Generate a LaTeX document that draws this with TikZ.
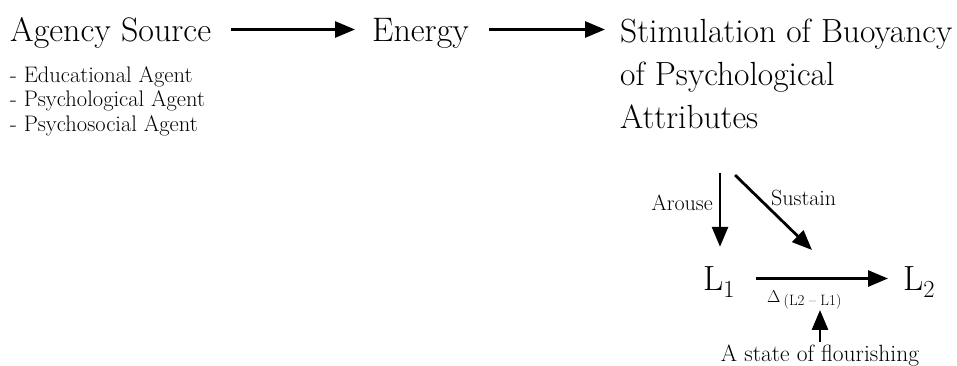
\documentclass[tikz,border=0pt]{standalone}
\usepackage{fontspec}
\usetikzlibrary{arrows.meta}
\begin{document}
\begin{tikzpicture}[x=1pt,y=-1pt,
	big/.style={anchor=base west, inner sep=0, text height=23pt, text depth=0pt, font=\fontsize{34}{43}\selectfont},
	small/.style={anchor=base west, inner sep=0, font=\fontsize{22.5}{24}\selectfont},
	label/.style={inner sep=0, font=\fontsize{22}{22}\selectfont},
	level/.style={anchor=base west, inner sep=0, text height=23pt, text depth=0pt, font=\fontsize{35}{35}\selectfont},
	arr/.style={line width=2.8pt, -{Triangle[length=20pt,width=16pt]}}]
	\useasboundingbox (0,0) rectangle (957,365);
	% top row
	\node[big] (src) at (10,41) {Agency Source};
	\node[big] (energy) at (372,41) {Energy};
	\node[anchor=north west, inner sep=0, align=left, font=\fontsize{33.5}{43}\selectfont] (stim) at (620,18.5) {Stimulation of Buoyancy\\of Psychological\\Attributes};
	\draw[arr, shorten <=20pt, shorten >=17pt] (src) -- (energy);
	\draw[arr, shorten <=20pt, shorten >=15pt] (energy.east) -- (energy.east -| stim.west);
	% agents
	\node[small] (edu) at (10,82) {- Educational Agent};
	\node[small] (psy) at (10,106) {- Psychological Agent};
	\node[small] (soc) at (10,131) {- Psychosocial Agent};
	% levels
	\coordinate (arousetop) at (720,173);
	\coordinate (sustaintop) at (735,175);
	\coordinate (sustaintip) at (812,250);
	\node[level] (L1) at (703,290) {L\textsubscript{1}};
	\node[level] (L2) at (903,290) {L\textsubscript{2}};
	\draw[arr, shorten >=20pt] (arousetop) -- (arousetop |- L1.north);
	\draw[arr] (sustaintop) -- (sustaintip);
	\node[label, anchor=base east] (arouse) at (713,210) {Arouse};
	\node[label, anchor=base west] (sustain) at (771,205) {Sustain};
	\draw[arr, shorten <=21pt, shorten >=15pt] (L1) -- (L2);
	\node[anchor=base west, inner sep=0, font=\fontsize{19}{19}\selectfont] (delta) at (767,302) {$\Delta$\,\raisebox{-3pt}{\fontsize{15}{15}\selectfont(L2 -- L1)}};
	\node[anchor=base, inner sep=0, font=\fontsize{23.5}{23.5}\selectfont] (flour) at (820,361) {A state of flourishing};
	\draw[arr, shorten <=2pt, shorten >=1pt] (flour.north) -- (flour.north |- delta.south);
\end{tikzpicture}
\end{document}
